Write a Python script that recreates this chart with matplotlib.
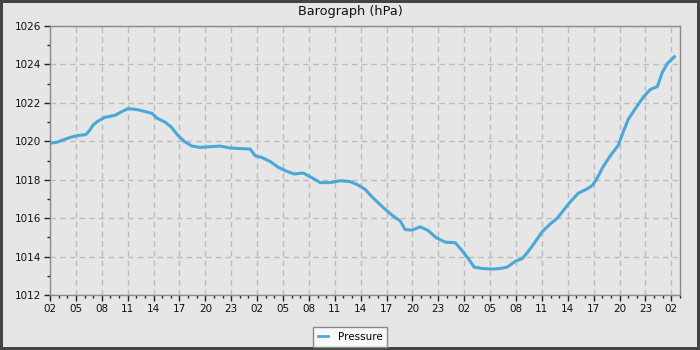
import numpy as np
import matplotlib
matplotlib.use("Agg")
import matplotlib.pyplot as plt
from matplotlib.ticker import MultipleLocator, FuncFormatter

hours = [0.0, 0.81, 1.39, 2.32, 3.25, 4.17, 4.64, 4.99, 5.57, 6.38,
         7.54, 8.35, 9.04, 10.09, 11.01, 11.83, 12.41, 13.33, 14.03, 14.84,
         15.54, 16.46, 17.39, 18.55, 19.71, 20.87, 22.03, 23.19, 23.77, 24.58,
         25.51, 26.43, 27.36, 28.29, 29.33, 30.38, 31.30, 32.46, 33.62, 34.78,
         35.59, 36.52, 37.33, 38.49, 39.65, 40.58, 41.16, 41.97, 42.90, 43.83,
         44.75, 45.80, 46.96, 47.77, 48.46, 49.16, 50.09, 51.25, 52.17, 52.99,
         53.91, 54.72, 55.30, 56.12, 57.04, 57.97, 58.78, 59.48, 60.29, 61.22,
         62.14, 62.84, 63.42, 64.12, 64.93, 65.86, 66.43, 67.01, 67.83, 68.75,
         69.57, 70.38, 70.96, 71.54, 72.35]
pressure = [1019.90, 1019.95, 1020.05, 1020.20, 1020.30, 1020.35, 1020.60, 1020.85, 1021.05, 1021.25,
            1021.35, 1021.55, 1021.70, 1021.65, 1021.55, 1021.45, 1021.20, 1021.00, 1020.75, 1020.30,
            1020.00, 1019.75, 1019.68, 1019.72, 1019.75, 1019.65, 1019.62, 1019.60, 1019.25, 1019.15,
            1018.95, 1018.65, 1018.45, 1018.30, 1018.35, 1018.10, 1017.85, 1017.85, 1017.95, 1017.90,
            1017.75, 1017.50, 1017.10, 1016.60, 1016.15, 1015.85, 1015.40, 1015.38, 1015.55, 1015.35,
            1014.98, 1014.75, 1014.72, 1014.30, 1013.90, 1013.45, 1013.38, 1013.35, 1013.38, 1013.45,
            1013.75, 1013.90, 1014.20, 1014.70, 1015.30, 1015.70, 1016.00, 1016.40, 1016.85, 1017.30,
            1017.50, 1017.70, 1018.10, 1018.70, 1019.25, 1019.80, 1020.50, 1021.15, 1021.70, 1022.30,
            1022.70, 1022.85, 1023.60, 1024.05, 1024.40]
start_hour = 2

bg = '#e6e6e6'
line_col = '#4aa8d8'

fig = plt.figure(figsize=(7, 3.5), dpi=100)
fig.patch.set_facecolor(bg)
fig.patch.set_edgecolor('#444444')
fig.patch.set_linewidth(3)

ax = fig.add_axes([50/700, 1-295/350, 630/700, 269/350])
ax.set_facecolor(bg)
ax.plot(hours, pressure, color=line_col, linewidth=2.2, label='Pressure')

ax.set_xlim(0, 73)
ax.set_ylim(1012, 1026)
ax.xaxis.set_major_locator(MultipleLocator(3))
ax.xaxis.set_minor_locator(MultipleLocator(1))
ax.yaxis.set_major_locator(MultipleLocator(2))
ax.yaxis.set_minor_locator(MultipleLocator(1))
ax.xaxis.set_major_formatter(FuncFormatter(lambda v, p: f"{int(round(v + start_hour)) % 24:02d}"))
ax.yaxis.set_major_formatter(FuncFormatter(lambda v, p: f"{int(v)}"))

ax.tick_params(which='major', direction='out', length=4.5, width=1, color='#222222',
               labelsize=7.5, labelcolor='#111111', pad=2)
ax.tick_params(which='minor', direction='out', length=2.5, width=1, color='#222222')
ax.grid(True, which='major', linestyle=(0, (4, 3)), color='#bcbcbc', linewidth=1)
ax.set_axisbelow(True)
for s in ax.spines.values():
    s.set_color('#8a8a8a')
    s.set_linewidth(1)

fig.text(0.5, 1-12/350, 'Barograph (hPa)', ha='center', va='center',
         fontsize=9.3, color='#111111')

leg = fig.legend(loc='center', bbox_to_anchor=(0.5, 1-337/350), fontsize=7.5,
                 frameon=True, fancybox=False, handlelength=1.0, handletextpad=0.9,
                 borderpad=0.45, borderaxespad=0)
leg.get_frame().set_facecolor('#f8f8f8')
leg.get_frame().set_edgecolor('#888888')
leg.get_frame().set_alpha(1)
leg.get_lines()[0].set_linewidth(2)

fig.savefig('out.png', dpi=100, facecolor=bg, edgecolor='#444444')
